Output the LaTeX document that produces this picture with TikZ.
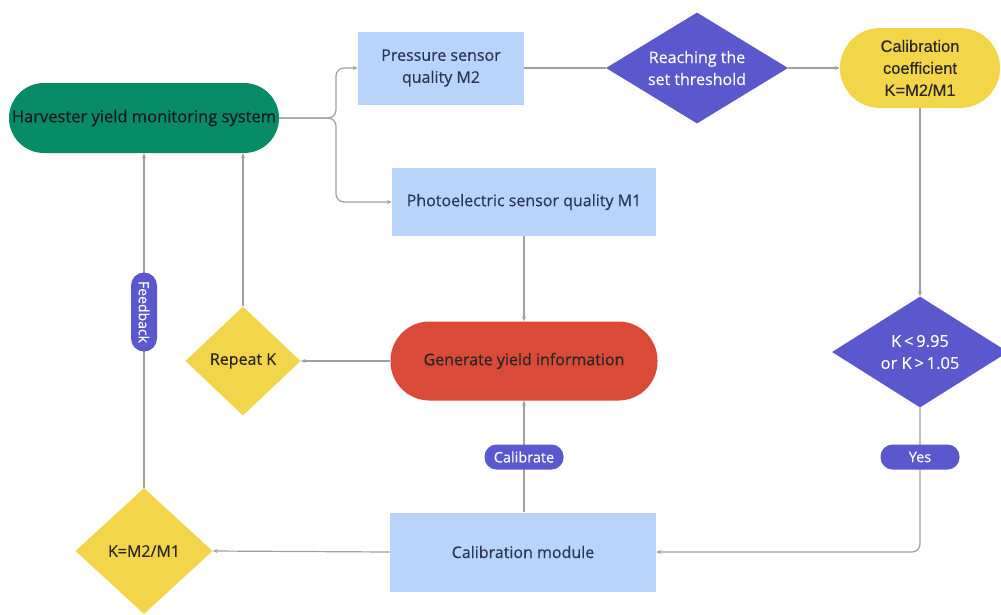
\documentclass[tikz,border=0pt]{standalone}
\usepackage{fontspec}
\setmainfont{Open Sans}[FakeBold=0.35]
\newfontfamily\arialf{Liberation Sans}[FakeBold=0.2]
\usetikzlibrary{shapes.geometric,arrows.meta}
\definecolor{cgreen}{HTML}{078A66}
\definecolor{cblue}{HTML}{B8D4FA}
\definecolor{cpurple}{HTML}{5A58CC}
\definecolor{cyellow}{HTML}{F2D548}
\definecolor{cred}{HTML}{D94A38}
\definecolor{cline}{HTML}{A0A0A0}
\definecolor{ctext}{HTML}{2A3550}
\tikzset{
  base/.style={inner sep=0pt, align=center, font=\fontsize{16}{22}\selectfont},
  boxnode/.style={base, rectangle, fill=cblue, text=ctext},
  purplediam/.style={base, diamond, aspect=1.62, fill=cpurple, text=white},
  yellowdiam/.style={base, diamond, fill=cyellow, text=black!85},
  pill/.style={base, rectangle, rounded corners=12pt, fill=cpurple, text=white, font=\fontsize{14.5}{16}\selectfont},
  conn/.style={draw=cline, line width=1.2pt},
  arr/.style={conn, -{Stealth[length=5pt,width=4pt]}}
}
\begin{document}
\begin{tikzpicture}[x=1pt,y=-1pt]
\useasboundingbox[fill=white] (0,0) rectangle (1001,614);

\node[base, rectangle, rounded corners=35pt, fill=cgreen, text=black!90, minimum width=270pt, minimum height=70pt, font=\fontsize{16.5}{20}\selectfont] (harv) at (144,118) {Harvester yield monitoring system};
\node[boxnode, minimum width=166pt, minimum height=73pt] (press) at (441,68) {Pressure sensor\\quality M2};
\node[boxnode, minimum width=264pt, minimum height=68pt] (photo) at (524,202) {Photoelectric sensor quality M1};
\node[purplediam, minimum width=182pt, minimum height=111pt] (reach) at (697,68) {Reaching the\\set threshold};
\node[base, rectangle, rounded corners=40pt, fill=cyellow, text=black!85, minimum width=160pt, minimum height=80pt, font=\arialf\fontsize{16.5}{22}\selectfont] (coef) at (920,68) {Calibration\\coefficient\\K=M2/M1};
\node[purplediam, minimum width=176pt, minimum height=111pt, font=\fontsize{16.5}{22}\selectfont] (kd) at (920,352) {K\,<\,9.95\\or K\,>\,1.05};
\node[base, rectangle, rounded corners=39pt, fill=cred, text=black!85, minimum width=267pt, minimum height=79pt] (gen) at (524,361) {Generate yield information};
\node[yellowdiam, minimum width=115pt, minimum height=109pt] (rk) at (243,361) {Repeat K};
\node[boxnode, minimum width=266pt, minimum height=79pt] (calmod) at (523,552) {Calibration module};
\node[yellowdiam, minimum width=137pt, minimum height=126pt] (km) at (144,551) {K=M2/M1};

% connectors
\draw[arr, rounded corners=8pt] (harv.east) -- (336,118) |- (press.west);
\draw[arr, rounded corners=8pt] (harv.east) -- (336,118) |- (photo.west);
\draw[conn] (press.east) -- (reach.west);
\draw[arr] (reach.east) -- (coef.west);
\draw[arr] (coef.south) -- (kd.north);
\draw[arr, rounded corners=8pt] (kd.south) |- (calmod.east);
\draw[arr] (photo.south) -- (gen.north);
\draw[arr] (calmod.north -| gen.south) -- (gen.south);
\draw[arr] (gen.west) -- (rk.east);
\draw[arr] (calmod.west) -- (km.east);
\draw[arr] (rk.north) -- (rk.north |- harv.south);
\draw[arr] (km.north) -- (harv.south);

% labels
\node[pill, minimum width=26pt, minimum height=79pt, rounded corners=13pt] (fbbg) at (144,312) {};
\node[base, text=white, rotate=-90, font=\fontsize{14}{16}\selectfont] (fb) at (144,312) {Feedback};
\node[pill, minimum width=79pt, minimum height=25pt] (cal) at (524,457) {Calibrate};
\node[pill, minimum width=79pt, minimum height=25pt] (yes) at (920,457) {Yes};
\end{tikzpicture}
\end{document}
